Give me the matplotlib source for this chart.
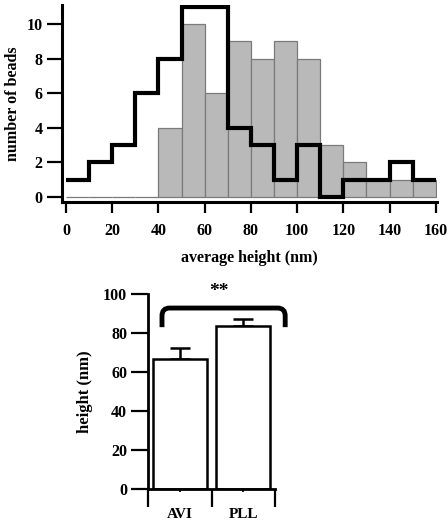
import matplotlib.pyplot as plt
import numpy as np
from matplotlib.path import Path
from matplotlib.patches import PathPatch

plt.rcParams['font.family'] = ['Liberation Serif', 'DejaVu Serif']
plt.rcParams['font.weight'] = 'bold'
plt.rcParams['axes.labelweight'] = 'bold'

# histogram data (bins of 10 nm)
bin_edges = list(range(0, 170, 10))
gray_counts = [0, 0, 0, 0, 4, 10, 6, 9, 8, 9, 8, 3, 2, 1, 1, 1]
black_counts = [1, 2, 3, 6, 8, 11, 11, 4, 3, 1, 3, 0, 1, 1, 2, 1]

# bar chart data
groups = ['AVI', 'PLL']
heights = [66.5, 83.5]
errors = [5.7, 3.6]

fig = plt.figure(figsize=(4.48, 5.25), dpi=100)

# ---- top: histogram
ax1 = fig.add_axes([0.1384, 0.6152, 0.837, 0.3753])
left = np.array(bin_edges[:-1])
ax1.bar(left, gray_counts, width=10, align='edge', color='#b9b9b9',
        edgecolor='#7a7a7a', linewidth=0.9, zorder=2)
ax1.stairs(black_counts, bin_edges, baseline=None, color='black',
           linewidth=3.0, zorder=3)
ax1.set_xlim(-1.7, 160.5)
ax1.set_ylim(-0.29, 11.1)
ax1.set_xticks(range(0, 161, 20))
ax1.set_yticks(range(0, 11, 2))
for s in ['top', 'right']:
    ax1.spines[s].set_visible(False)
for s in ['left', 'bottom']:
    ax1.spines[s].set_linewidth(2.2)
ax1.tick_params(axis='y', length=11, width=1.6, labelsize=11.5, pad=3)
ax1.tick_params(axis='x', length=8, width=1.6, labelsize=11.5, pad=7)
ax1.set_xlabel('average height (nm)', fontsize=11.5, labelpad=8)
ax1.set_ylabel('number of beads', fontsize=11.5)
ax1.yaxis.set_label_coords(-0.11, 0.5)

# ---- bottom: bar chart
ax2 = fig.add_axes([0.3304, 0.0686, 0.2835, 0.3714])
x = np.arange(len(groups))
ax2.bar(x, heights, width=0.85, color='white', edgecolor='black',
        linewidth=1.8, zorder=2)
ax2.errorbar(x, heights, yerr=[[0, 0], errors], fmt='none', ecolor='black',
             elinewidth=1.8, capsize=7, capthick=1.8, zorder=1)
ax2.set_xlim(-0.5, 1.5)
ax2.set_ylim(0, 100)
ax2.set_yticks(range(0, 101, 20))
ax2.set_xticks([-0.5, 0.5, 1.5])
ax2.set_xticklabels([])
ax2.set_xticks(x, minor=True)
ax2.set_xticklabels(groups, minor=True)
for s in ['top', 'right']:
    ax2.spines[s].set_visible(False)
for s in ['left', 'bottom']:
    ax2.spines[s].set_linewidth(2.0)
ax2.tick_params(axis='y', length=12, width=1.6, labelsize=11.5, pad=3)
ax2.tick_params(axis='x', which='major', length=13, width=1.6)
ax2.tick_params(axis='x', which='minor', length=2, width=1.2, labelsize=11, pad=12)
ax2.set_ylabel('height (nm)', fontsize=12)
ax2.yaxis.set_label_coords(-0.43, 0.5)

# significance bracket
xl, xr, yb, yt = -0.28, 1.66, 83, 92.8
verts = [(xl, yb), (xl, yt - 4), (xl, yt), (xl + 0.12, yt),
         (xr - 0.12, yt), (xr, yt), (xr, yt - 4), (xr, yb)]
codes = [Path.MOVETO, Path.LINETO, Path.CURVE3, Path.CURVE3,
         Path.LINETO, Path.CURVE3, Path.CURVE3, Path.LINETO]
ax2.add_patch(PathPatch(Path(verts, codes), fill=False, linewidth=3.5,
                        edgecolor='black', clip_on=False, capstyle='butt'))
ax2.text(0.62, 101.5, '**', ha='center', va='center', fontsize=14,
         fontweight='bold', clip_on=False)

fig.savefig('out.png', dpi=100)
